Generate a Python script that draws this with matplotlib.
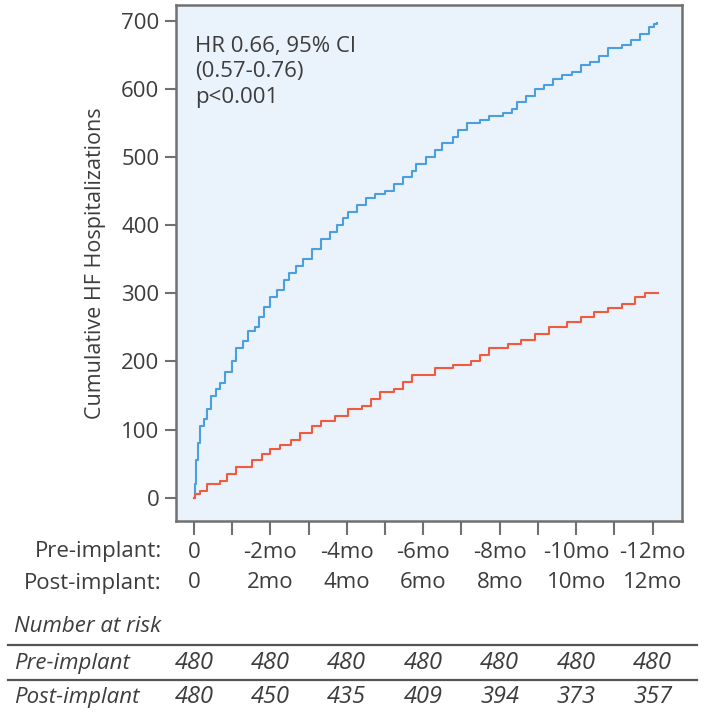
import matplotlib
matplotlib.use("Agg")
import matplotlib.pyplot as plt
import matplotlib.transforms as mtransforms
from matplotlib.lines import Line2D

plt.rcParams['font.family'] = ['Open Sans', 'DejaVu Sans']

# Pre-implant (blue) cumulative HF hospitalizations, months vs count
pre_months = [0, 0.02, 0.05, 0.1, 0.16, 0.27, 0.33, 0.45, 0.57, 0.69, 0.81, 0.99, 1.11, 1.29,
              1.41, 1.59, 1.71, 1.83, 2.0, 2.18, 2.36, 2.48, 2.66, 2.84, 3.08, 3.32, 3.56,
              3.74, 3.91, 4.03, 4.27, 4.51, 4.75, 4.99, 5.23, 5.47, 5.70, 5.82, 6.06, 6.30,
              6.48, 6.78, 6.90, 7.14, 7.49, 7.73, 8.09, 8.33, 8.45, 8.69, 8.93, 9.16, 9.40,
              9.64, 9.88, 10.12, 10.36, 10.60, 10.84, 11.19, 11.43, 11.67, 11.91, 12.05, 12.12]
pre_counts = [0, 20, 55, 80, 105, 115, 130, 150, 160, 168, 185, 200, 220, 230,
              245, 250, 265, 280, 295, 305, 320, 330, 340, 350, 365, 380, 390,
              400, 410, 420, 430, 440, 445, 450, 460, 470, 480, 490, 500, 510,
              520, 530, 540, 550, 555, 560, 565, 570, 580, 590, 600, 605, 615,
              620, 625, 635, 640, 648, 660, 665, 672, 680, 690, 695, 697]

# Post-implant (red) cumulative HF hospitalizations
post_months = [0, 0.02, 0.16, 0.33, 0.69, 0.87, 1.11, 1.53, 1.77, 2.0, 2.24, 2.54, 2.78,
               3.08, 3.32, 3.68, 4.03, 4.39, 4.63, 4.87, 5.23, 5.47, 5.70, 6.30, 6.78,
               7.26, 7.49, 7.73, 8.21, 8.57, 8.93, 9.28, 9.76, 10.12, 10.48, 10.84,
               11.19, 11.55, 11.79, 12.15]
post_counts = [0, 5, 10, 20, 25, 35, 45, 55, 65, 72, 78, 85, 95,
               105, 112, 120, 130, 135, 145, 155, 160, 170, 180, 190, 195,
               200, 210, 220, 225, 232, 240, 250, 258, 265, 272, 278,
               285, 295, 300, 300]

tick_months = list(range(0, 13))
label_months = [0, 2, 4, 6, 8, 10, 12]
pre_labels = ['0', '-2mo', '-4mo', '-6mo', '-8mo', '-10mo', '-12mo']
post_labels = ['0', '2mo', '4mo', '6mo', '8mo', '10mo', '12mo']
yticks = [0, 100, 200, 300, 400, 500, 600, 700]
risk_pre = [480, 480, 480, 480, 480, 480, 480]
risk_post = [480, 450, 435, 409, 394, 373, 357]

BLUE = '#4a9fe0'
RED = '#f05a3f'
TXT = '#3d3d3d'
SPINE = '#707070'

W, H = 705, 714
fig = plt.figure(figsize=(W / 100, H / 100), dpi=100)
ax = fig.add_axes([176 / W, 1 - 521 / H, (682 - 176) / W, (521 - 5) / H])
ax.set_facecolor('#eaf2fb')

ax.step(pre_months, pre_counts, where='post', color=BLUE, lw=1.5)
ax.step(post_months, post_counts, where='post', color=RED, lw=1.5)

ax.set_xlim(-0.47, 12.77)
ax.set_ylim(-34, 723)
ax.set_yticks(yticks)
ax.set_yticklabels([str(v) for v in yticks], fontsize=16, color=TXT)
ax.set_xticks(tick_months)
ax.set_xticklabels([])
ax.tick_params(axis='y', length=8, width=1.5, color=SPINE, pad=4)
ax.tick_params(axis='x', length=10, width=1.5, color=SPINE)
for s in ax.spines.values():
    s.set_color(SPINE)
    s.set_linewidth(1.8)

ax.set_ylabel('Cumulative HF Hospitalizations', fontsize=15.5, color=TXT, labelpad=11)

ax.text(0.0375, 0.94, 'HR 0.66, 95% CI\n(0.57-0.76)\np<0.001', transform=ax.transAxes,
        fontsize=16, color=TXT, va='top', ha='left', linespacing=1.28)

trans = mtransforms.blended_transform_factory(ax.transData, fig.transFigure)

def fy(py):
    return 1 - py / H

fig.text(162 / W, fy(552), 'Pre-implant:', fontsize=16, color=TXT, ha='right', va='center')
fig.text(162 / W, fy(583), 'Post-implant:', fontsize=16, color=TXT, ha='right', va='center')
for m, a, b in zip(label_months, pre_labels, post_labels):
    ax.text(m, fy(552), a, transform=trans, fontsize=16, color=TXT, ha='center', va='center')
    ax.text(m, fy(583), b, transform=trans, fontsize=16, color=TXT, ha='center', va='center')

fig.text(14 / W, fy(627), 'Number at risk', fontsize=16, color=TXT, style='italic',
         ha='left', va='center')
fig.text(14 / W, fy(663), 'Pre-implant', fontsize=16, color=TXT, style='italic',
         ha='left', va='center')
fig.text(14 / W, fy(697), 'Post-implant', fontsize=16, color=TXT, style='italic',
         ha='left', va='center')
for m, a, b in zip(label_months, risk_pre, risk_post):
    ax.text(m, fy(663), str(a), transform=trans, fontsize=17, color=TXT, style='italic',
            ha='center', va='center')
    ax.text(m, fy(697), str(b), transform=trans, fontsize=17, color=TXT, style='italic',
            ha='center', va='center')

for py in (645, 680):
    fig.add_artist(Line2D([8 / W, 697 / W], [fy(py), fy(py)], transform=fig.transFigure,
                          color='#555555', lw=1.6))

fig.savefig('out.png', dpi=100, facecolor='white')
